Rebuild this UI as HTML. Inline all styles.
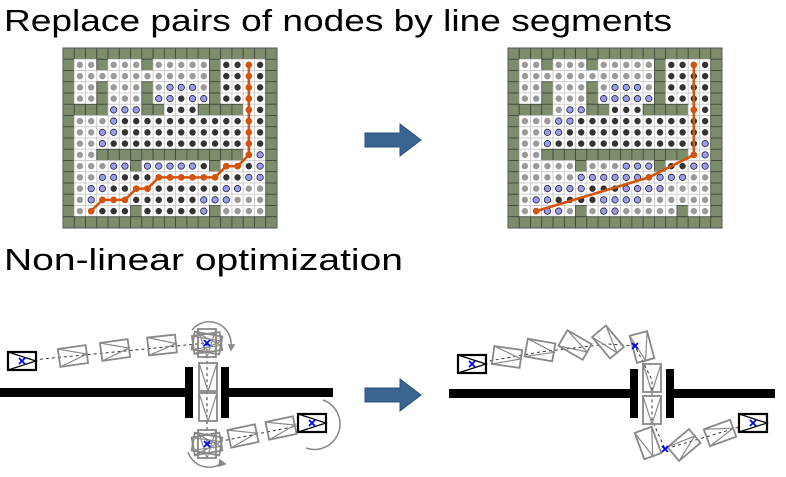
<!DOCTYPE html>
<html><head><meta charset="utf-8"><style>
html,body{margin:0;padding:0;background:#fff;width:786px;height:477px;overflow:hidden}
svg{display:block}
text{font-family:"Liberation Sans",sans-serif;fill:#000}
</style></head><body>
<svg id="s" width="786" height="477" viewBox="0 0 786 477" xmlns="http://www.w3.org/2000/svg">
<text x="4" y="31" font-size="31" textLength="668" lengthAdjust="spacingAndGlyphs">Replace pairs of nodes by line segments</text>
<text x="4" y="270" font-size="31" textLength="399" lengthAdjust="spacingAndGlyphs">Non-linear optimization</text>
<g id="g1"></g><g id="g2"></g>
<!-- arrows -->
<polygon points="365,133 400,133 400,124 421,140 400,156 400,147 365,147" fill="#3a6592" stroke="#2b4f75" stroke-width="1"/>
<polygon points="365,388 400,388 400,379 421,395 400,411 400,402 365,402" fill="#3a6592" stroke="#2b4f75" stroke-width="1"/>
<!-- bottom left -->
<rect x="0" y="388" width="187" height="9" fill="#000"/>
<rect x="226" y="388" width="107" height="9" fill="#000"/>
<rect x="185" y="367" width="8" height="51" fill="#000"/>
<rect x="221" y="367" width="8" height="51" fill="#000"/>
<rect x="449" y="389" width="185" height="9" fill="#000"/>
<rect x="668" y="389" width="107" height="9" fill="#000"/>
<rect x="630" y="369" width="8" height="49" fill="#000"/>
<rect x="666" y="369" width="8" height="49" fill="#000"/>
<g id="veh"></g>
<g fill="none" stroke="#888" stroke-width="1.5">
<path d="M192,330 A22,22 0 0 1 231,346"/><polygon points="229,345 234,345 231,350" fill="#888"/>
<path d="M188,452 A22,22 0 0 0 222,463"/><polygon points="220,460 225,464 219,466" fill="#888"/>
<path d="M323,400 A24,24 0 0 1 306,448"/>
</g>
</svg>
<script>
var NS="http://www.w3.org/2000/svg";
function el(p,t,a){var e=document.createElementNS(NS,t);for(var k in a)e.setAttribute(k,a[k]);p.appendChild(e);return e;}
var L=["GGGGGGGGGGGGGGGGGGG",
"G..G...G.....Gkkkk G",
"G............Gkkkk G",
"G..G...G.bbb.Gkkkk G",
"G..G...Gbbkbb Gkkkk G",
"GGGGbbbGGkkkGGGGkkG",
"G...bkkkkkkkkkkkkkG",
"G..bbkkkkkkkkkkkkkG",
"G..bkkkkkkkkkkkkkkG",
"G..GGGGGGGGGGGGGkbG",
"G...bbGbbbbbkGkkkbG",
"G..bbkkkkkkkkkkkbbG",
"G.bbkkkkkkkkkkbb..G",
"G.bkkkkkkkkkbbb...G",
"G.kkkkGkkkkkbG....G",
"GGGGGGGGGGGGGGGGGGG"];
L=L.map(function(r){return r.replace(/ /g,"");});
L[1]="G..G...G.....Gkkkk".slice(0,18)+"G";
L[1]="G..G...G.....Gkkkk";L[1]=L[1].slice(0,18)+"G";
// fix rows explicitly
L[1]="G..G...G.....Gkkkk"; 
L=[ "GGGGGGGGGGGGGGGGGGG",
"G..G...G.....GkkkkG",
"G............GkkkkG",
"G..G...G.bbb.GkkkkG",
"G..G...GbbkbbGkkkkG",
"GGGGbbbGGkkkGGGGkkG",
"G...bkkkkkkkkkkkkkG",
"G..bbkkkkkkkkkkkkkG",
"G..bkkkkkkkkkkkkkkG",
"G..GGGGGGGGGGGGGkbG",
"G...bbGbbbbbkGkkkbG",
"G..bbkkkkkkkkkkkbbG",
"G.bbkkkkkkkkkkbb.G".replace(/G$/,".G"),
"G.bkkkkkkkkkbbb...G",
"G.kkkkGkkkkkbG....G",
"GGGGGGGGGGGGGGGGGGG"];
var R=L.slice();
R[4]="G..G...GbbbbbGkkkkG";R[5]="GGGG.bbGGkkkGGGGkkG";
R[6]="G...bbkkkkkkkkkkkkG";R[8]="G..bkkkkkkkkkkkkkbG";R[9]="G..GGGGGGGGGGGGGkbG";
R[10]="G.....G...bbbGkkbbG";R[11]="G.....bbbbbbkbbb..G";R[12]="G..bbbbkkkbbbb....G";
R[13]="G.bbkkkkbbbb......G";R[14]="G..bb.G.bb.....G..G";
var cw=214/19,ch=180/16;
function grid(g,x0,y0,M,path){
 for(var r=0;r<16;r++)for(var c=0;c<19;c++){
  var ch_=M[r][c]||"G",x=x0+c*cw,y=y0+r*ch;
  if(ch_=="G")el(g,"rect",{x:x,y:y,width:cw,height:ch,fill:"#7d8d6c",stroke:"#3d4535","stroke-width":0.8});
  else{el(g,"rect",{x:x,y:y,width:cw,height:ch,fill:"#fff",stroke:"#c8c8c8","stroke-width":0.8});
   var f=ch_=="k"?"#333":ch_=="b"?"#9b9bee":"#9a9a9a";
   el(g,"circle",{cx:x+cw/2,cy:y+ch/2,r:3.2,fill:f,stroke:ch_=="b"?"#223":"none","stroke-width":0.8});}
 }
 el(g,"rect",{x:x0,y:y0,width:214,height:180,fill:"none",stroke:"#555","stroke-width":1});
 var pts=path.map(function(p){return [x0+(p[0]+.5)*cw,y0+(p[1]+.5)*ch];});
 el(g,"polyline",{points:pts.join(" "),fill:"none",stroke:"#d4540e","stroke-width":2.6});
 return pts;
}
var lp=[[2,14],[3,13],[5,13],[6,12],[7,12],[8,11],[13,11],[14,10],[15,10],[16,9],[16,1]];
var p1=grid(document.getElementById("g1"),63,48,L,lp);
var g1=document.getElementById("g1");
// dots along left path every cell
for(var i=0;i<lp.length-1;i++){var a=lp[i],b=lp[i+1],n=Math.max(Math.abs(b[0]-a[0]),Math.abs(b[1]-a[1]));
 for(var k=0;k<=n;k++){var cx=a[0]+(b[0]-a[0])*k/n,cy=a[1]+(b[1]-a[1])*k/n;
  el(g1,"circle",{cx:63+(cx+.5)*cw,cy:48+(cy+.5)*ch,r:3.3,fill:"#d4540e"});}}
var rp=[[2,14],[12,11],[16,9],[16,1]];
var g2=document.getElementById("g2");
grid(g2,508,48,R,rp);
[[2,14],[12,11],[16,9],[16,5],[16,1]].forEach(function(p){el(g2,"circle",{cx:508+(p[0]+.5)*cw,cy:48+(p[1]+.5)*ch,r:3.3,fill:"#d4540e"});});
// vehicles
var V=document.getElementById("veh");
function box(cx,cy,rot,black){var g=el(V,"g",{transform:"translate("+cx+","+cy+") rotate("+rot+")"});
 var s=black?"#000":"#888",w=black?2.2:1.8;
 el(g,"rect",{x:-14,y:-9,width:28,height:18,fill:black?"#fff":"none",stroke:s,"stroke-width":w});
 el(g,"polyline",{points:"-14,-9 14,0 -14,9",fill:"none",stroke:s,"stroke-width":1.2});}
function xm(x,y){el(V,"path",{d:"M"+(x-3)+","+(y-3)+"L"+(x+3)+","+(y+3)+"M"+(x+3)+","+(y-3)+"L"+(x-3)+","+(y+3),stroke:"#00f","stroke-width":1.8});}
function dash(p){el(V,"polyline",{points:p,fill:"none",stroke:"#333","stroke-width":1,"stroke-dasharray":"3,3"});}
dash("22,361 207,343 207,444 312,423");
box(73,356,-8);box(115,350,-8);box(162,345,-6);
box(207,343,-8);box(207,343,10);box(207,343,90);
box(208,377,90);box(208,407,90);
box(207,444,90);box(207,444,-10);box(207,444,10);
box(243,436,-12);box(281,428,-12);
box(22,361,0,true);box(312,423,0,true);
xm(22,361);xm(207,343);xm(207,444);xm(312,423);
dash("472,364 540,352 608,344 635,346 652,380 652,420 665,449 753,423");
box(507,357,8);box(540,350,10);box(575,345,30);box(608,342,50);box(642,347,75);
box(652,378,90);box(652,410,90);
box(648,443,70);box(684,445,-40);box(720,433,-20);
box(472,364,0,true);box(753,423,0,true);
xm(472,364);xm(635,346);xm(665,449);xm(753,423);
</script>
</body></html>
